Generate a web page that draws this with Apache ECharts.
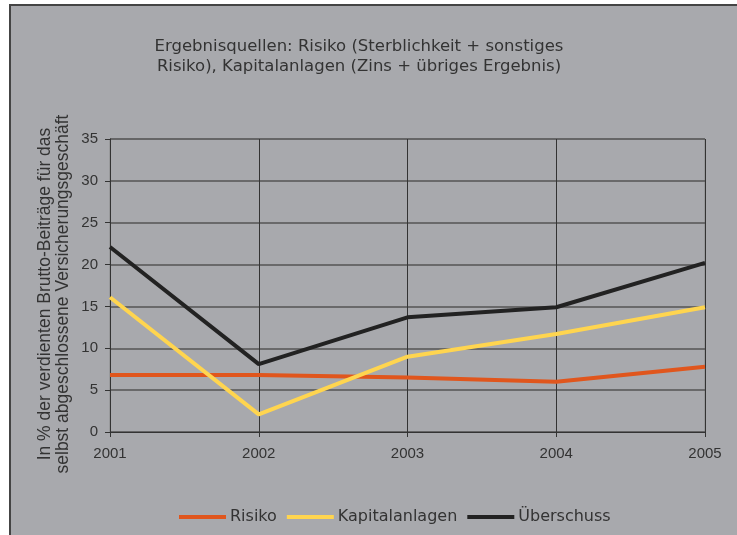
<!DOCTYPE html>
<html>
<head>
<meta charset="utf-8">
<script src="https://cdn.jsdelivr.net/npm/echarts@6/dist/echarts.min.js"></script>
<style>
  html, body { margin: 0; padding: 0; background: #fff; }
  #chart { width: 737px; height: 535px; }
</style>
</head>
<body>
<div id="chart"></div>
<script>
  // Jahre und Werte (in % der verdienten Brutto-Beiträge)
  var years = ['2001', '2002', '2003', '2004', '2005']
  var risiko = [6.8, 6.8, 6.5, 6.0, 7.8]
  var kapitalanlagen = [16.1, 2.1, 9.0, 11.7, 14.9]
  var ueberschuss = [22.1, 8.1, 13.7, 14.9, 20.2]
  var seriesNames = ['Risiko', 'Kapitalanlagen', 'Überschuss']
  var colors = ['#E0561D', '#FFD54F', '#222222']

  var chart = echarts.init(document.getElementById('chart'))

  var lineSeries = []
  var seriesData = [risiko, kapitalanlagen, ueberschuss]
  for (var i in seriesNames) {
    lineSeries.push({
      name: seriesNames[i],
      type: 'line',
      data: seriesData[i],
      showSymbol: false,
      symbol: 'none',
      lineStyle: { width: 4, color: colors[i] },
      itemStyle: { color: colors[i] },
      z: 3
    })
  }

  var options = {
    animation: false,
    color: colors,
    graphic: [
      {
        type: 'rect',
        z: -10,
        shape: { x: 10, y: 5, width: 740, height: 540 },
        style: { fill: '#A8A9AD', stroke: '#444', lineWidth: 2 }
      },
      {
        type: 'text',
        x: 54, y: 294,
        rotation: Math.PI / 2,
        style: {
          text: 'In % der verdienten Brutto-Beiträge für das\nselbst abgeschlossene Versicherungsgeschäft',
          font: '17.5px "Liberation Sans", Arial, sans-serif',
          fill: '#333',
          textAlign: 'center',
          textVerticalAlign: 'middle',
          lineHeight: 18
        }
      }
    ],
    title: {
      text: 'Ergebnisquellen: Risiko (Sterblichkeit + sonstiges\nRisiko), Kapitalanlagen (Zins + übriges Ergebnis)',
      left: 359,
      top: 37,
      padding: 0,
      textAlign: 'center',
      textStyle: {
        fontFamily: 'DejaVu Sans',
        fontSize: 16.5,
        fontWeight: 'normal',
        color: '#333',
        lineHeight: 20
      }
    },
    legend: {
      data: seriesNames,
      left: 179,
      top: 509,
      padding: 0,
      icon: 'rect',
      itemWidth: 47,
      itemHeight: 4,
      itemGap: 10,
      textStyle: { fontFamily: 'DejaVu Sans', fontSize: 16, color: '#333', padding: [0, 0, 0, -1] }
    },
    grid: {
      left: 110,
      right: 32,
      top: 139,
      bottom: 103,
      show: true,
      borderColor: '#888',
      borderWidth: 1,
      backgroundColor: 'transparent'
    },
    xAxis: {
      type: 'category',
      data: years,
      boundaryGap: false,
      axisLine: { show: true, lineStyle: { color: '#333', width: 1 } },
      axisTick: { show: true, length: 5, lineStyle: { color: '#333' } },
      axisLabel: {
        margin: 14,
        fontFamily: '"Liberation Sans", Arial, sans-serif',
        fontSize: 15,
        color: '#333',
        showMinLabel: true,
        showMaxLabel: true
      },
      splitLine: { show: true, lineStyle: { color: '#333', width: 1 } }
    },
    yAxis: {
      type: 'value',
      min: 0,
      max: 35,
      interval: 5,
      axisLine: { show: true, lineStyle: { color: '#333', width: 1 } },
      axisTick: { show: true, length: 5, lineStyle: { color: '#333' } },
      axisLabel: {
        margin: 12,
        fontFamily: '"Liberation Sans", Arial, sans-serif',
        fontSize: 15,
        color: '#333'
      },
      splitLine: { show: true, lineStyle: { color: '#555', width: 1.5 } }
    },
    series: lineSeries
  }

  chart.setOption(options)
</script>
</body>
</html>
